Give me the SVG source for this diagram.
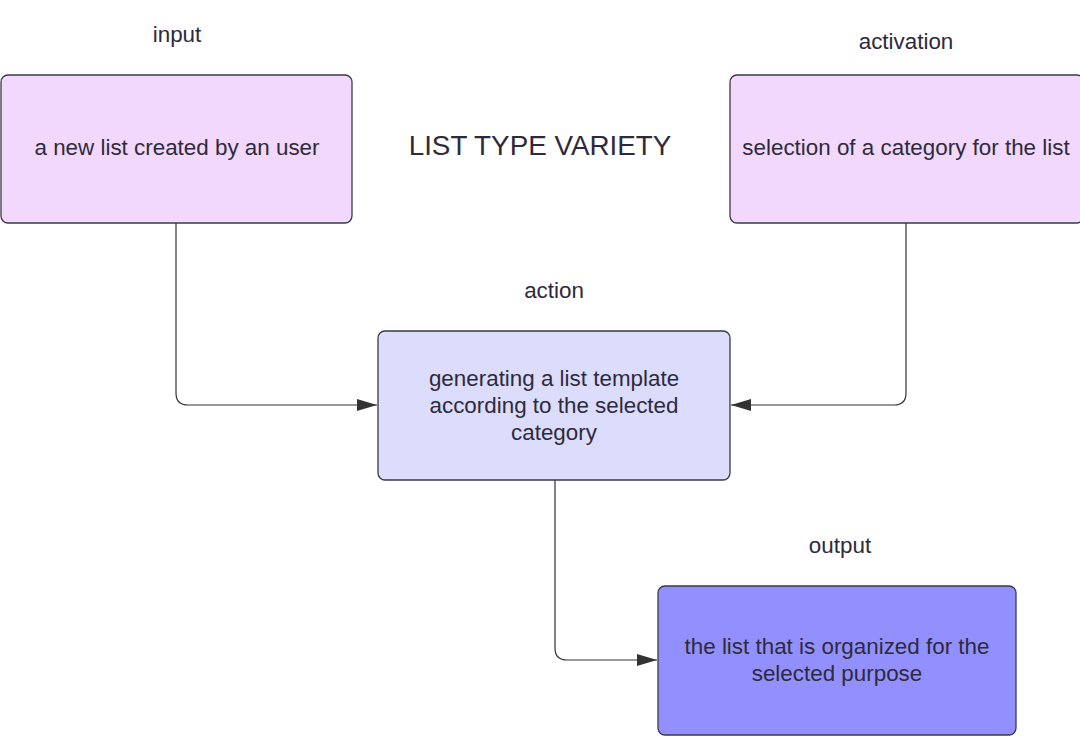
<svg xmlns="http://www.w3.org/2000/svg" width="1080" height="737" viewBox="0 0 1080 737">
<style>
.box{stroke:#3a3a45;stroke-width:1.3}
.t{font-family:"Liberation Sans",Arial,sans-serif;font-size:22.4px;fill:#2e2a3c;text-anchor:middle}
.conn{fill:none;stroke:#333;stroke-width:1.2}
</style>
<defs>
<marker id="ah" viewBox="0 0 20 12" refX="20" refY="6" markerWidth="20" markerHeight="12" markerUnits="userSpaceOnUse" orient="auto">
<path d="M0,0 L20,6 L0,12 Z" fill="#333"/>
</marker>
</defs>
<rect width="1080" height="737" fill="#fff"/>
<text class="t" x="177" y="42">input</text>
<text class="t" x="906" y="49">activation</text>
<text class="t" x="554" y="298">action</text>
<text class="t" x="840" y="553">output</text>
<text class="t" x="540" y="155" style="font-size:27.8px">LIST TYPE VARIETY</text>
<g id="connectors">
<path class="conn" d="M176,223 V393 Q176,405 188,405 H377" marker-end="url(#ah)"/>
<path class="conn" d="M906,223 V393 Q906,405 894,405 H731" marker-end="url(#ah)"/>
<path class="conn" d="M555,480 V648 Q555,660 567,660 H657" marker-end="url(#ah)"/>
</g>
<g id="input">
<rect class="box" x="1" y="75" width="351" height="148" rx="7" fill="#f2d8fc"/>
<text class="t" x="177" y="155">a new list created by an user</text>
</g>
<g id="activation">
<rect class="box" x="730" y="75" width="354" height="148" rx="7" fill="#f2d8fc"/>
<text class="t" x="906" y="155">selection of a category for the list</text>
</g>
<g id="action">
<rect class="box" x="378" y="331" width="352" height="149" rx="7" fill="#dcdcfc"/>
<text class="t" x="554" y="386">generating a list template</text>
<text class="t" x="554" y="413">according to the selected</text>
<text class="t" x="554" y="440">category</text>
</g>
<g id="output">
<rect class="box" x="658" y="586" width="358" height="149" rx="7" fill="#9290fe"/>
<text class="t" x="837" y="654">the list that is organized for the</text>
<text class="t" x="837" y="681">selected purpose</text>
</g>
</svg>
